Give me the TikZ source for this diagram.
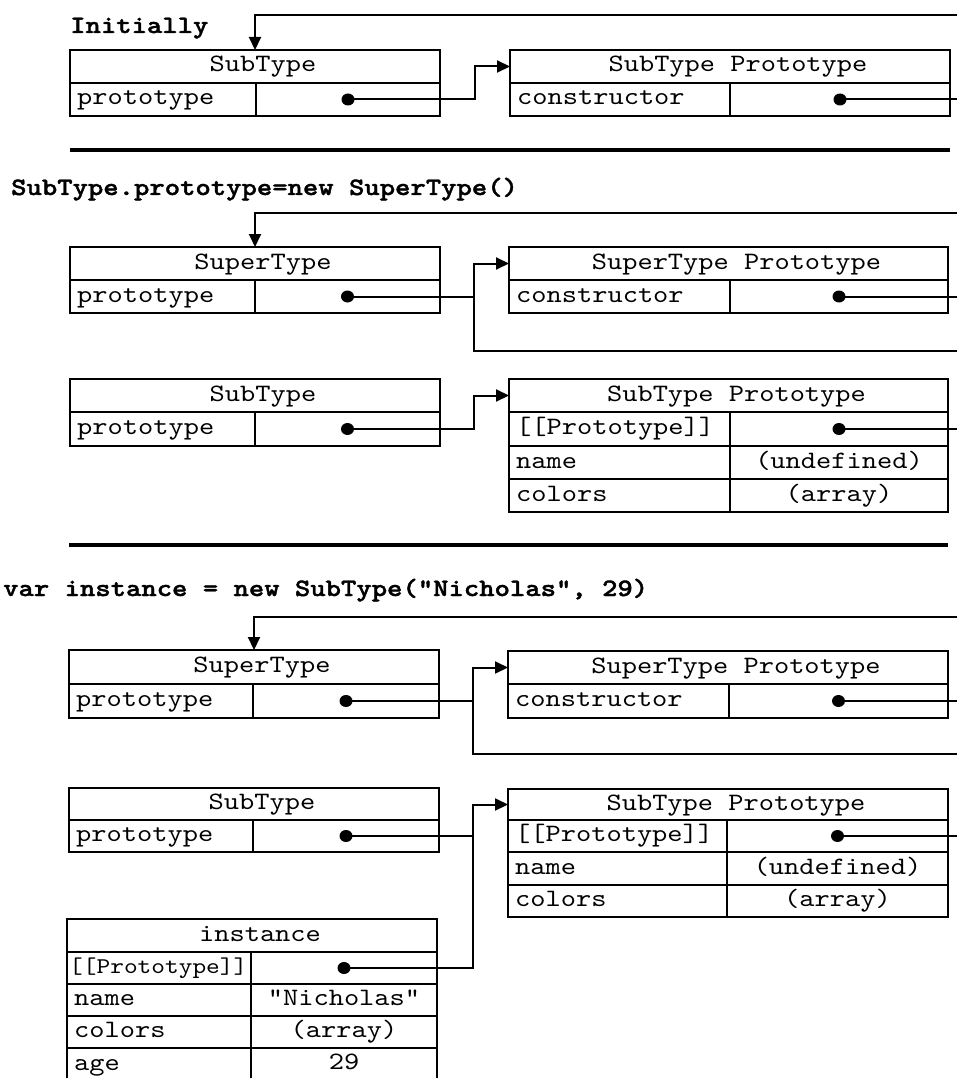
\documentclass[tikz,border=0pt]{standalone}
\usepackage{fontspec}
\newfontfamily\cellfont[FakeStretch=1.16]{lmmono10-regular.otf}
\newfontfamily\headfont[FakeStretch=1.17,FakeBold=1.5]{lmmonolt10-bold.otf}
\usetikzlibrary{arrows.meta,shapes.geometric}
\tikzset{
  cellbox/.style={draw, line width=2pt, inner sep=0pt, outer sep=0pt, rectangle},
  celltext/.style={font=\cellfont\fontsize{25}{30}\selectfont, inner sep=0pt, text height=15pt, text depth=4pt},
  smalltext/.style={font=\cellfont\fontsize{22.5}{27}\selectfont, inner sep=0pt, text height=14pt, text depth=4pt},
  ptr/.style={ellipse, fill, inner sep=0pt, minimum width=13pt, minimum height=12pt},
  conn/.style={line width=2pt},
  arr/.style={conn, -{Triangle[length=13pt,width=12pt]}},
  hrule/.style={line width=3.2pt},
  heading/.style={font=\headfont\fontsize{25}{30}\selectfont, anchor=base west, inner sep=0pt},
}
% name, x1, y1, x2, y2
\newcommand\mkbox[5]{\node[cellbox, minimum width={(#4)-(#2)}, minimum height={(#5)-(#3)}] (#1) at ({((#2)+(#4))/2},{((#3)+(#5))/2}) {};}
\newcommand\mkhead[6]{\mkbox{#1}{#2}{#3}{#4}{#5}\node[celltext] (#1-t) at ([xshift=8pt]#1.center) {#6};}
\newcommand\mkkey[6]{\mkbox{#1}{#2}{#3}{#4}{#5}\node[celltext, anchor=west] (#1-t) at ([xshift=7pt]#1.west) {#6};}
\newcommand\mkval[6]{\mkbox{#1}{#2}{#3}{#4}{#5}\node[celltext] (#1-t) at (#1.center) {#6};}
\newcommand\mkptr[5]{\mkbox{#1}{#2}{#3}{#4}{#5}\node[ptr] (#1-d) at (#1.center) {};}
\begin{document}
\begin{tikzpicture}[x=1pt, y=-1pt]
\useasboundingbox[fill=white] (0,0) rectangle (956,1078);
\coordinate (R) at (958,0);

% ---------------- Section 1: Initially
\node[heading] (h1) at (70,33) {Initially};
\mkhead{sA}{70}{50}{440}{83}{SubType}
\mkkey{sAk}{70}{83}{256}{116}{prototype}
\mkptr{sAv}{256}{83}{440}{116}
\mkhead{pA}{510}{50}{950}{83}{SubType Prototype}
\mkkey{pAk}{510}{83}{730}{116}{constructor}
\mkptr{pAv}{730}{83}{950}{116}
\coordinate (tA) at (958,15);
\coordinate (jA) at (475,0);
\draw[arr] (tA) -| (sA.north);
\draw[arr] (sAv-d.center) -- (sAv-d.center -| jA) |- (pA.west);
\draw[conn] (pAv-d.center) -- (pAv-d.center -| R);

\coordinate (r1a) at (70,150);
\coordinate (r1b) at (950,150);
\draw[hrule] (r1a) -- (r1b);

% ---------------- Section 2
\node[heading] (h2) at (11,195) {SubType.prototype=new SuperType()};
\mkhead{uB}{70}{247}{440}{280}{SuperType}
\mkkey{uBk}{70}{280}{255}{313}{prototype}
\mkptr{uBv}{255}{280}{440}{313}
\mkhead{qB}{509}{247}{948}{280}{SuperType Prototype}
\mkkey{qBk}{509}{280}{730}{313}{constructor}
\mkptr{qBv}{730}{280}{948}{313}
\coordinate (tB) at (958,213);
\coordinate (jB) at (474,0);
\coordinate (bB) at (958,351);
\draw[arr] (tB) -| (uB.north);
\draw[arr] (uBv-d.center) -- (uBv-d.center -| jB) |- (qB.west);
\draw[conn] (bB) -| (qB.west -| jB);
\draw[conn] (qBv-d.center) -- (qBv-d.center -| R);

\mkhead{sB}{70}{379}{440}{412}{SubType}
\mkkey{sBk}{70}{412}{255}{446}{prototype}
\mkptr{sBv}{255}{412}{440}{446}
\mkhead{pB}{509}{379}{948}{412}{SubType Prototype}
\mkkey{pBk}{509}{412}{730}{446}{[[Prototype]]}
\mkptr{pBv}{730}{412}{948}{446}
\mkkey{pBn}{509}{446}{730}{479}{name}
\mkval{pBnv}{730}{446}{948}{479}{(undefined)}
\mkkey{pBc}{509}{479}{730}{512}{colors}
\mkval{pBcv}{730}{479}{948}{512}{(array)}
\draw[arr] (sBv-d.center) -- (sBv-d.center -| jB) |- (pB.west);
\draw[conn] (pBv-d.center) -- (pBv-d.center -| R);

\coordinate (r2a) at (69,545);
\coordinate (r2b) at (948,545);
\draw[hrule] (r2a) -- (r2b);

% ---------------- Section 3
\node[heading] (h3) at (3,596) {var instance = new SubType("Nicholas", 29)};
\mkhead{uC}{69}{650}{439}{684}{SuperType}
\mkkey{uCk}{69}{684}{253}{718}{prototype}
\mkptr{uCv}{253}{684}{439}{718}
\mkhead{qC}{508}{651}{948}{684}{SuperType Prototype}
\mkkey{qCk}{508}{684}{729}{718}{constructor}
\mkptr{qCv}{729}{684}{948}{718}
\coordinate (tC) at (958,617);
\coordinate (jC) at (473,0);
\coordinate (bC) at (958,754);
\draw[arr] (tC) -| (uC.north);
\draw[arr] (uCv-d.center) -- (uCv-d.center -| jC) |- (qC.west);
\draw[conn] (bC) -| (qC.west -| jC);
\draw[conn] (qCv-d.center) -- (qCv-d.center -| R);

\mkhead{sC}{69}{788}{439}{820}{SubType}
\mkkey{sCk}{69}{820}{253}{852}{prototype}
\mkptr{sCv}{253}{820}{439}{852}
\mkhead{pC}{508}{789}{948}{820}{SubType Prototype}
\mkkey{pCk}{508}{820}{727}{852}{[[Prototype]]}
\mkptr{pCv}{727}{820}{948}{852}
\mkkey{pCn}{508}{852}{727}{885}{name}
\mkval{pCnv}{727}{852}{948}{885}{(undefined)}
\mkkey{pCc}{508}{885}{727}{917}{colors}
\mkval{pCcv}{727}{885}{948}{917}{(array)}
\draw[arr] (sCv-d.center) -- (sCv-d.center -| jC) |- (pC.west);
\draw[conn] (pCv-d.center) -- (pCv-d.center -| R);

\mkhead{iC}{67}{919}{437}{952}{instance}
\mkbox{iCk}{67}{952}{251}{984}
\node[smalltext, anchor=west] (iCk-t) at ([xshift=2pt]iCk.west) {[[Prototype]]};
\mkptr{iCv}{251}{952}{437}{984}
\mkkey{iCn}{67}{984}{251}{1016}{name}
\mkval{iCnv}{251}{984}{437}{1016}{"Nicholas"}
\mkkey{iCc}{67}{1016}{251}{1048}{colors}
\mkval{iCcv}{251}{1016}{437}{1048}{(array)}
\mkkey{iCa}{67}{1048}{251}{1082}{age}
\mkval{iCav}{251}{1048}{437}{1082}{}
\node[celltext] (iCav-t) at (344,1064) {29};
\draw[conn] (iCv-d.center) -- (iCv-d.center -| jC) -- (sCv-d.center -| jC);
\end{tikzpicture}
\end{document}
